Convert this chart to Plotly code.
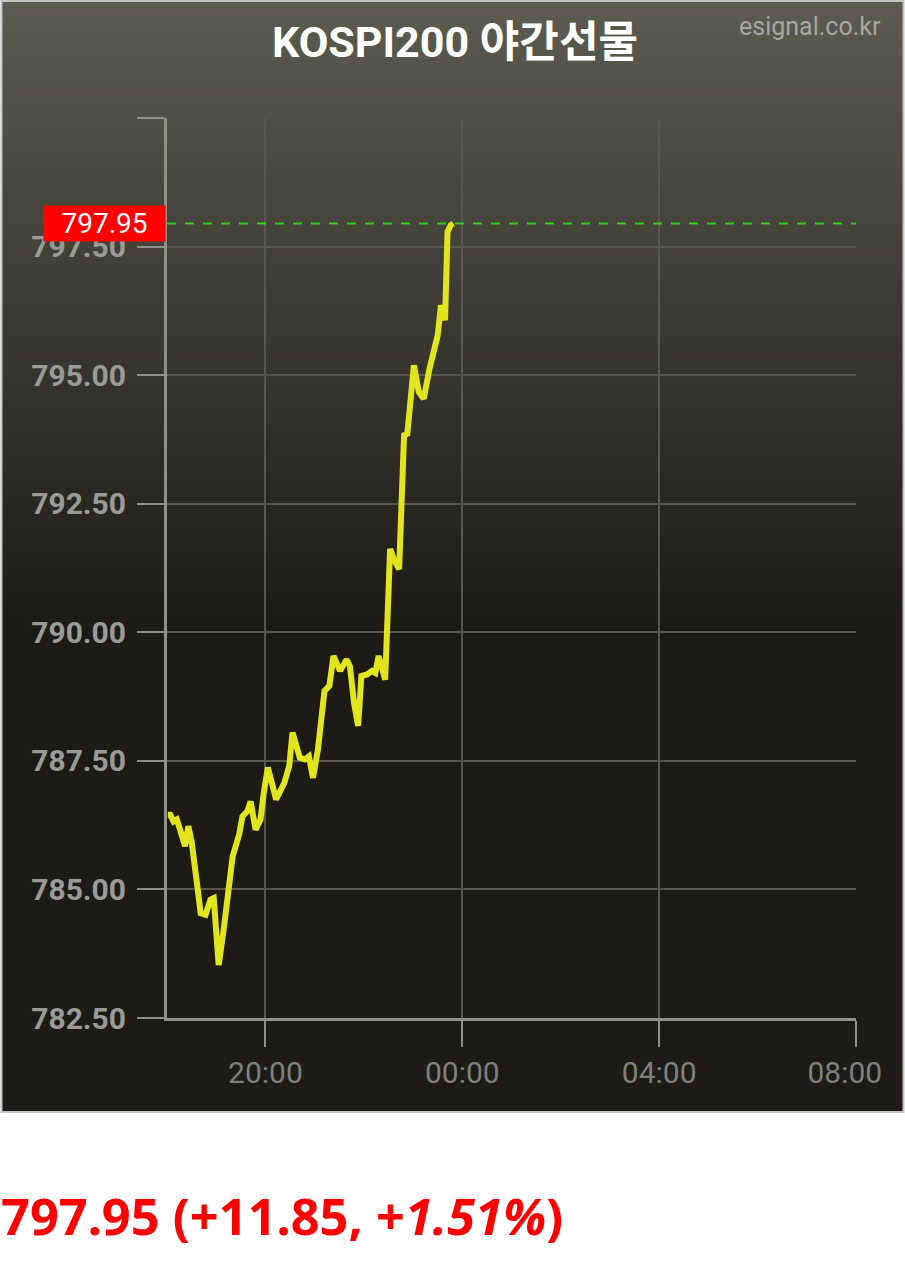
import plotly.graph_objects as go

# ---------------- data ----------------
times = ["18:01", "18:04", "18:08", "18:12", "18:16", "18:22", "18:26", "18:30", "18:37", "18:41",
         "18:47", "18:53", "18:57", "19:03", "19:09", "19:15", "19:20", "19:28", "19:32", "19:38",
         "19:42", "19:48", "19:54", "19:58", "20:03", "20:13", "20:23", "20:29", "20:33", "20:42",
         "20:48", "20:53", "20:58", "21:04", "21:12", "21:18", "21:23", "21:31", "21:39", "21:43",
         "21:48", "21:53", "21:57", "22:04", "22:10", "22:14", "22:18", "22:26", "22:32", "22:37",
         "22:43", "22:49", "22:53", "23:01", "23:07", "23:13", "23:20", "23:30", "23:34", "23:39",
         "23:42", "23:46", "23:49"]
values = [786.45, 786.45, 786.32, 786.36, 786.16, 785.84, 786.23, 785.93, 785.06, 784.54,
          784.51, 784.80, 784.83, 783.53, 784.21, 785.06, 785.64, 786.07, 786.42, 786.52,
          786.71, 786.16, 786.36, 786.88, 787.37, 786.75, 787.07, 787.40, 788.05, 787.56,
          787.53, 787.59, 787.17, 787.72, 788.86, 788.96, 789.54, 789.25, 789.47, 789.34,
          788.63, 788.18, 789.15, 789.18, 789.25, 789.21, 789.54, 789.08, 791.62, 791.40,
          791.23, 793.83, 793.86, 795.19, 794.67, 794.54, 795.12, 795.77, 796.36, 796.07,
          797.79, 797.92, 797.95]
prev_close = 786.10
y_ticks = [782.5, 785.0, 787.5, 790.0, 792.5, 795.0, 797.5, 800.0]
y_ticklabels = ["782.50", "785.00", "787.50", "790.00", "792.50", "795.00", "797.50", ""]
x_tickvals = ["2024-01-01 20:00", "2024-01-02 00:00", "2024-01-02 04:00", "2024-01-02 08:00"]
x_ticklabels = ["20:00", "00:00", "04:00", "08:00&nbsp;&nbsp;&nbsp;"]
title_text = "KOSPI200 야간선물"
source_text = "esignal.co.kr"

# ---------------- helpers ----------------
def to_dt(t):
    h = int(t[:2])
    day = "2024-01-01" if h >= 12 else "2024-01-02"
    return f"{day} {t}"

xs = [to_dt(t) for t in times]

W, H = 905, 1267
L, R, T, B = 167, 856, 118, 1018

def px(x):
    return (x - L) / (R - L)

def py(y):
    return (B - y) / (B - T)

last = values[-1]
chg = last - prev_close
pct = chg / prev_close * 100

fig = go.Figure()
fig.add_trace(go.Scatter(x=xs, y=values, mode="lines",
                         line=dict(color="#e2e41c", width=6, shape="linear"),
                         hoverinfo="skip", showlegend=False))

shapes = []
# gradient background panel (overlapping bands)
top_c = (92, 91, 80)
bot_c = (28, 27, 22)
panel_top, panel_bot, grad_end = 2, 1111, 620
shapes.append(dict(type="rect", xref="paper", yref="paper", layer="below",
                   x0=px(2), x1=px(903), y0=py(panel_bot), y1=py(panel_top),
                   fillcolor=f"rgb{bot_c}", line=dict(width=0)))
n = 70
for i in range(n):
    y0 = panel_top + (grad_end - panel_top) * i / n
    y1 = panel_top + (grad_end - panel_top) * (i + 1) / n + 3
    f = (i + 0.5) / n
    c = tuple(int(round(top_c[k] + (bot_c[k] - top_c[k]) * f)) for k in range(3))
    shapes.append(dict(type="rect", xref="paper", yref="paper", layer="below",
                       x0=px(2), x1=px(903), y0=py(min(y1, grad_end)), y1=py(y0),
                       fillcolor=f"rgb{c}", line=dict(width=0)))
# panel border
shapes.append(dict(type="rect", xref="paper", yref="paper", layer="below",
                   x0=px(1.5), x1=px(903.5), y0=py(1112), y1=py(1),
                   fillcolor="rgba(0,0,0,0)", line=dict(color="#c4c4c4", width=2)))
# current value dashed line
shapes.append(dict(type="line", xref="paper", yref="y", x0=0, x1=1, y0=last, y1=last,
                   line=dict(color="#2fd21a", width=2, dash="dash"), layer="above"))

fig.update_layout(
    width=W, height=H,
    margin=dict(l=L, r=W - R, t=T, b=H - B, autoexpand=False),
    paper_bgcolor="white",
    plot_bgcolor="rgba(0,0,0,0)",
    shapes=shapes,
    showlegend=False,
    font=dict(family="Roboto, 'Noto Sans CJK KR', sans-serif"),
)

fig.update_xaxes(
    type="date",
    range=["2024-01-01 18:00", "2024-01-02 08:00"],
    tickvals=x_tickvals, ticktext=x_ticklabels,
    showgrid=True, gridcolor="#58584f", gridwidth=2,
    ticks="outside", ticklen=26, tickwidth=2, tickcolor="#8f8f8b",
    tickfont=dict(size=30, color="#7f7f7b", family="Roboto"),
    ticklabelstandoff=0, automargin=False,
    showline=True, linecolor="#8f8f8b", linewidth=3,
    zeroline=False, fixedrange=True,
)
fig.update_yaxes(
    range=[782.5, 800.0],
    tickvals=y_ticks, ticktext=y_ticklabels,
    showgrid=True, gridcolor="#58584f", gridwidth=2,
    ticks="outside", ticklen=27, tickwidth=2, tickcolor="#8f8f8b",
    tickfont=dict(size=30, color="#9a9a96", family="Roboto", weight="bold"),
    ticklabelstandoff=5, automargin=False,
    showline=True, linecolor="#8f8f8b", linewidth=3,
    zeroline=False, fixedrange=True,
)

annotations = [
    dict(text=f"<b>{title_text}</b>", xref="paper", yref="paper",
         x=px(455), y=py(42), xanchor="center", yanchor="middle", showarrow=False,
         font=dict(size=43, color="white", family="Roboto, 'Noto Sans CJK KR'")),
    dict(text=source_text, xref="paper", yref="paper",
         x=px(883), y=py(27), xanchor="right", yanchor="middle", showarrow=False,
         font=dict(size=25, color="#a8a8a2", family="Roboto")),
    dict(text=f"{last:.2f}", xref="paper", yref="y",
         x=px(166), y=last, xanchor="right", yanchor="middle", showarrow=False,
         bgcolor="#ff0000", borderpad=1, width=119,
         font=dict(size=28, color="white", family="Roboto")),
    dict(text=f"<b>{last:.2f} (+{chg:.2f}, +<i>{pct:.2f}%</i>)</b>", xref="paper", yref="paper",
         x=px(-1), y=py(1215), xanchor="left", yanchor="middle", showarrow=False,
         font=dict(size=50.5, color="#ff0000", family="'Noto Sans', 'Open Sans'")),
]
fig.update_layout(annotations=annotations)

fig.write_html("out.html", config={"displayModeBar": False},
               post_script="document.body.style.margin='0';document.body.style.padding='0';")
